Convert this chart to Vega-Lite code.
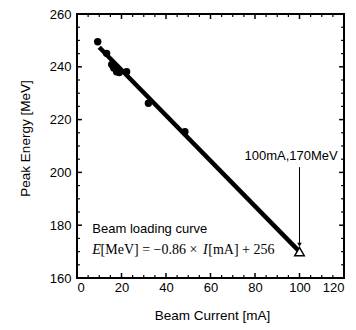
{
  "$schema": "https://vega.github.io/schema/vega-lite/v6.json",
  "autosize": {"type": "none"},
  "width": 267,
  "height": 264,
  "padding": {"left": 77, "top": 14, "right": 12, "bottom": 52},
  "background": "white",
  "config": {
    "view": {"stroke": "black", "strokeWidth": 2},
    "font": "Liberation Sans",
    "axis": {"grid": false, "domain": false, "ticks": false, "labelColor": "black", "titleColor": "black"}
  },
  "datasets": {
    "fit": [{"I": 10, "E": 247.4}, {"I": 100, "E": 170}],
    "meas": [
      {"I": 9.3, "E": 249.5},
      {"I": 13.3, "E": 245.1},
      {"I": 15.6, "E": 240.9},
      {"I": 16.5, "E": 239.5},
      {"I": 17.8, "E": 238.1},
      {"I": 19.0, "E": 237.8},
      {"I": 22.3, "E": 238.1},
      {"I": 32.1, "E": 226.2},
      {"I": 48.5, "E": 215.4}
    ],
    "target": [{"I": 100, "E": 170}],
    "arrow": [{"I": 100, "E": 202, "E2": 172.2}],
    "head": [{"I": 100, "E": 172.6}],
    "sans": [
      {"I": 6.9, "E": 177.2, "t": "Beam loading curve"},
      {"I": 75.3, "E": 204.7, "t": "100mA,170MeV"}
    ],
    "serif": [
      {"I": 10.6, "E": 169.1, "t": "[MeV] = −0.86 × "},
      {"I": 59.0, "E": 169.1, "t": "[mA] + 256"}
    ],
    "italic": [
      {"I": 6.9, "E": 169.1, "t": "E"},
      {"I": 56.6, "E": 169.1, "t": "I"}
    ],
    "xmajor": [{"v": 20}, {"v": 40}, {"v": 60}, {"v": 80}, {"v": 100}],
    "xminor": [{"v": 5}, {"v": 10}, {"v": 15}, {"v": 25}, {"v": 30}, {"v": 35}, {"v": 45}, {"v": 50}, {"v": 55}, {"v": 65}, {"v": 70}, {"v": 75}, {"v": 85}, {"v": 90}, {"v": 95}, {"v": 105}, {"v": 110}, {"v": 115}],
    "ymajor": [{"v": 180}, {"v": 200}, {"v": 220}, {"v": 240}],
    "yminor": [{"v": 165}, {"v": 170}, {"v": 175}, {"v": 185}, {"v": 190}, {"v": 195}, {"v": 205}, {"v": 210}, {"v": 215}, {"v": 225}, {"v": 230}, {"v": 235}, {"v": 245}, {"v": 250}, {"v": 255}]
  },
  "resolve": {"axis": {"x": "independent", "y": "independent"}},
  "layer": [
    {
      "data": {"name": "fit"},
      "mark": {"type": "line", "color": "black", "strokeWidth": 4.5},
      "encoding": {
        "x": {"field": "I", "type": "quantitative", "scale": {"domain": [0, 120], "nice": false},
          "axis": {"orient": "bottom", "values": [0, 20, 40, 60, 80, 100, 120], "labelPadding": 3,
            "labelFontSize": 13, "title": "Beam Current [mA]", "titleFontSize": 13.5,
            "titleFontWeight": "normal", "titleX": 135, "titleY": 37, "titleBaseline": "middle"}},
        "y": {"field": "E", "type": "quantitative", "scale": {"domain": [160, 260], "nice": false, "zero": false},
          "axis": {"orient": "left", "values": [160, 180, 200, 220, 240, 260], "labelPadding": 6,
            "labelFontSize": 13, "title": "Peak Energy [MeV]", "titleFontSize": 13.5, "titleFontWeight": "normal",
            "titleX": -52, "titleY": 124, "titleAngle": -90, "titleAlign": "center", "titleBaseline": "middle"}}
      }
    },
    {
      "data": {"name": "xmajor"},
      "mark": {"type": "rule", "color": "black", "strokeWidth": 1.5},
      "encoding": {"x": {"field": "v", "type": "quantitative", "axis": null}, "y": {"datum": 160, "axis": null}, "y2": {"datum": 161.9}}
    },
    {
      "data": {"name": "xmajor"},
      "mark": {"type": "rule", "color": "black", "strokeWidth": 1.5},
      "encoding": {"x": {"field": "v", "type": "quantitative", "axis": null}, "y": {"datum": 260, "axis": null}, "y2": {"datum": 258.1}}
    },
    {
      "data": {"name": "xminor"},
      "mark": {"type": "rule", "color": "black", "strokeWidth": 1.2},
      "encoding": {"x": {"field": "v", "type": "quantitative", "axis": null}, "y": {"datum": 160, "axis": null}, "y2": {"datum": 161.1}}
    },
    {
      "data": {"name": "xminor"},
      "mark": {"type": "rule", "color": "black", "strokeWidth": 1.2},
      "encoding": {"x": {"field": "v", "type": "quantitative", "axis": null}, "y": {"datum": 260, "axis": null}, "y2": {"datum": 258.9}}
    },
    {
      "data": {"name": "ymajor"},
      "mark": {"type": "rule", "color": "black", "strokeWidth": 1.5},
      "encoding": {"y": {"field": "v", "type": "quantitative", "axis": null}, "x": {"datum": 0, "axis": null}, "x2": {"datum": 2.2}}
    },
    {
      "data": {"name": "ymajor"},
      "mark": {"type": "rule", "color": "black", "strokeWidth": 1.5},
      "encoding": {"y": {"field": "v", "type": "quantitative", "axis": null}, "x": {"datum": 120, "axis": null}, "x2": {"datum": 117.8}}
    },
    {
      "data": {"name": "yminor"},
      "mark": {"type": "rule", "color": "black", "strokeWidth": 1.2},
      "encoding": {"y": {"field": "v", "type": "quantitative", "axis": null}, "x": {"datum": 0, "axis": null}, "x2": {"datum": 1.3}}
    },
    {
      "data": {"name": "yminor"},
      "mark": {"type": "rule", "color": "black", "strokeWidth": 1.2},
      "encoding": {"y": {"field": "v", "type": "quantitative", "axis": null}, "x": {"datum": 120, "axis": null}, "x2": {"datum": 118.7}}
    },
    {
      "data": {"name": "meas"},
      "mark": {"type": "point", "shape": "circle", "filled": true, "color": "black", "opacity": 1, "size": 55},
      "encoding": {
        "x": {"field": "I", "type": "quantitative", "axis": null},
        "y": {"field": "E", "type": "quantitative", "axis": null}
      }
    },
    {
      "data": {"name": "target"},
      "mark": {"type": "point", "shape": "triangle-up", "filled": true, "fill": "white", "stroke": "black", "strokeWidth": 1.5, "opacity": 1, "size": 90},
      "encoding": {
        "x": {"field": "I", "type": "quantitative", "axis": null},
        "y": {"field": "E", "type": "quantitative", "axis": null}
      }
    },
    {
      "data": {"name": "arrow"},
      "mark": {"type": "rule", "color": "black", "strokeWidth": 1},
      "encoding": {
        "x": {"field": "I", "type": "quantitative", "axis": null},
        "y": {"field": "E", "type": "quantitative", "axis": null},
        "y2": {"field": "E2"}
      }
    },
    {
      "data": {"name": "head"},
      "mark": {"type": "point", "shape": "triangle-down", "filled": true, "color": "black", "opacity": 1, "size": 20},
      "encoding": {
        "x": {"field": "I", "type": "quantitative", "axis": null},
        "y": {"field": "E", "type": "quantitative", "axis": null}
      }
    },
    {
      "data": {"name": "sans"},
      "mark": {"type": "text", "align": "left", "baseline": "alphabetic", "font": "Liberation Sans", "fontSize": 13, "color": "black"},
      "encoding": {
        "x": {"field": "I", "type": "quantitative", "axis": null},
        "y": {"field": "E", "type": "quantitative", "axis": null},
        "text": {"field": "t"}
      }
    },
    {
      "data": {"name": "serif"},
      "mark": {"type": "text", "align": "left", "baseline": "alphabetic", "font": "Liberation Serif", "fontSize": 14, "color": "black"},
      "encoding": {
        "x": {"field": "I", "type": "quantitative", "axis": null},
        "y": {"field": "E", "type": "quantitative", "axis": null},
        "text": {"field": "t"}
      }
    },
    {
      "data": {"name": "italic"},
      "mark": {"type": "text", "align": "left", "baseline": "alphabetic", "font": "Liberation Serif", "fontStyle": "italic", "fontSize": 14, "color": "black"},
      "encoding": {
        "x": {"field": "I", "type": "quantitative", "axis": null},
        "y": {"field": "E", "type": "quantitative", "axis": null},
        "text": {"field": "t"}
      }
    }
  ]
}
